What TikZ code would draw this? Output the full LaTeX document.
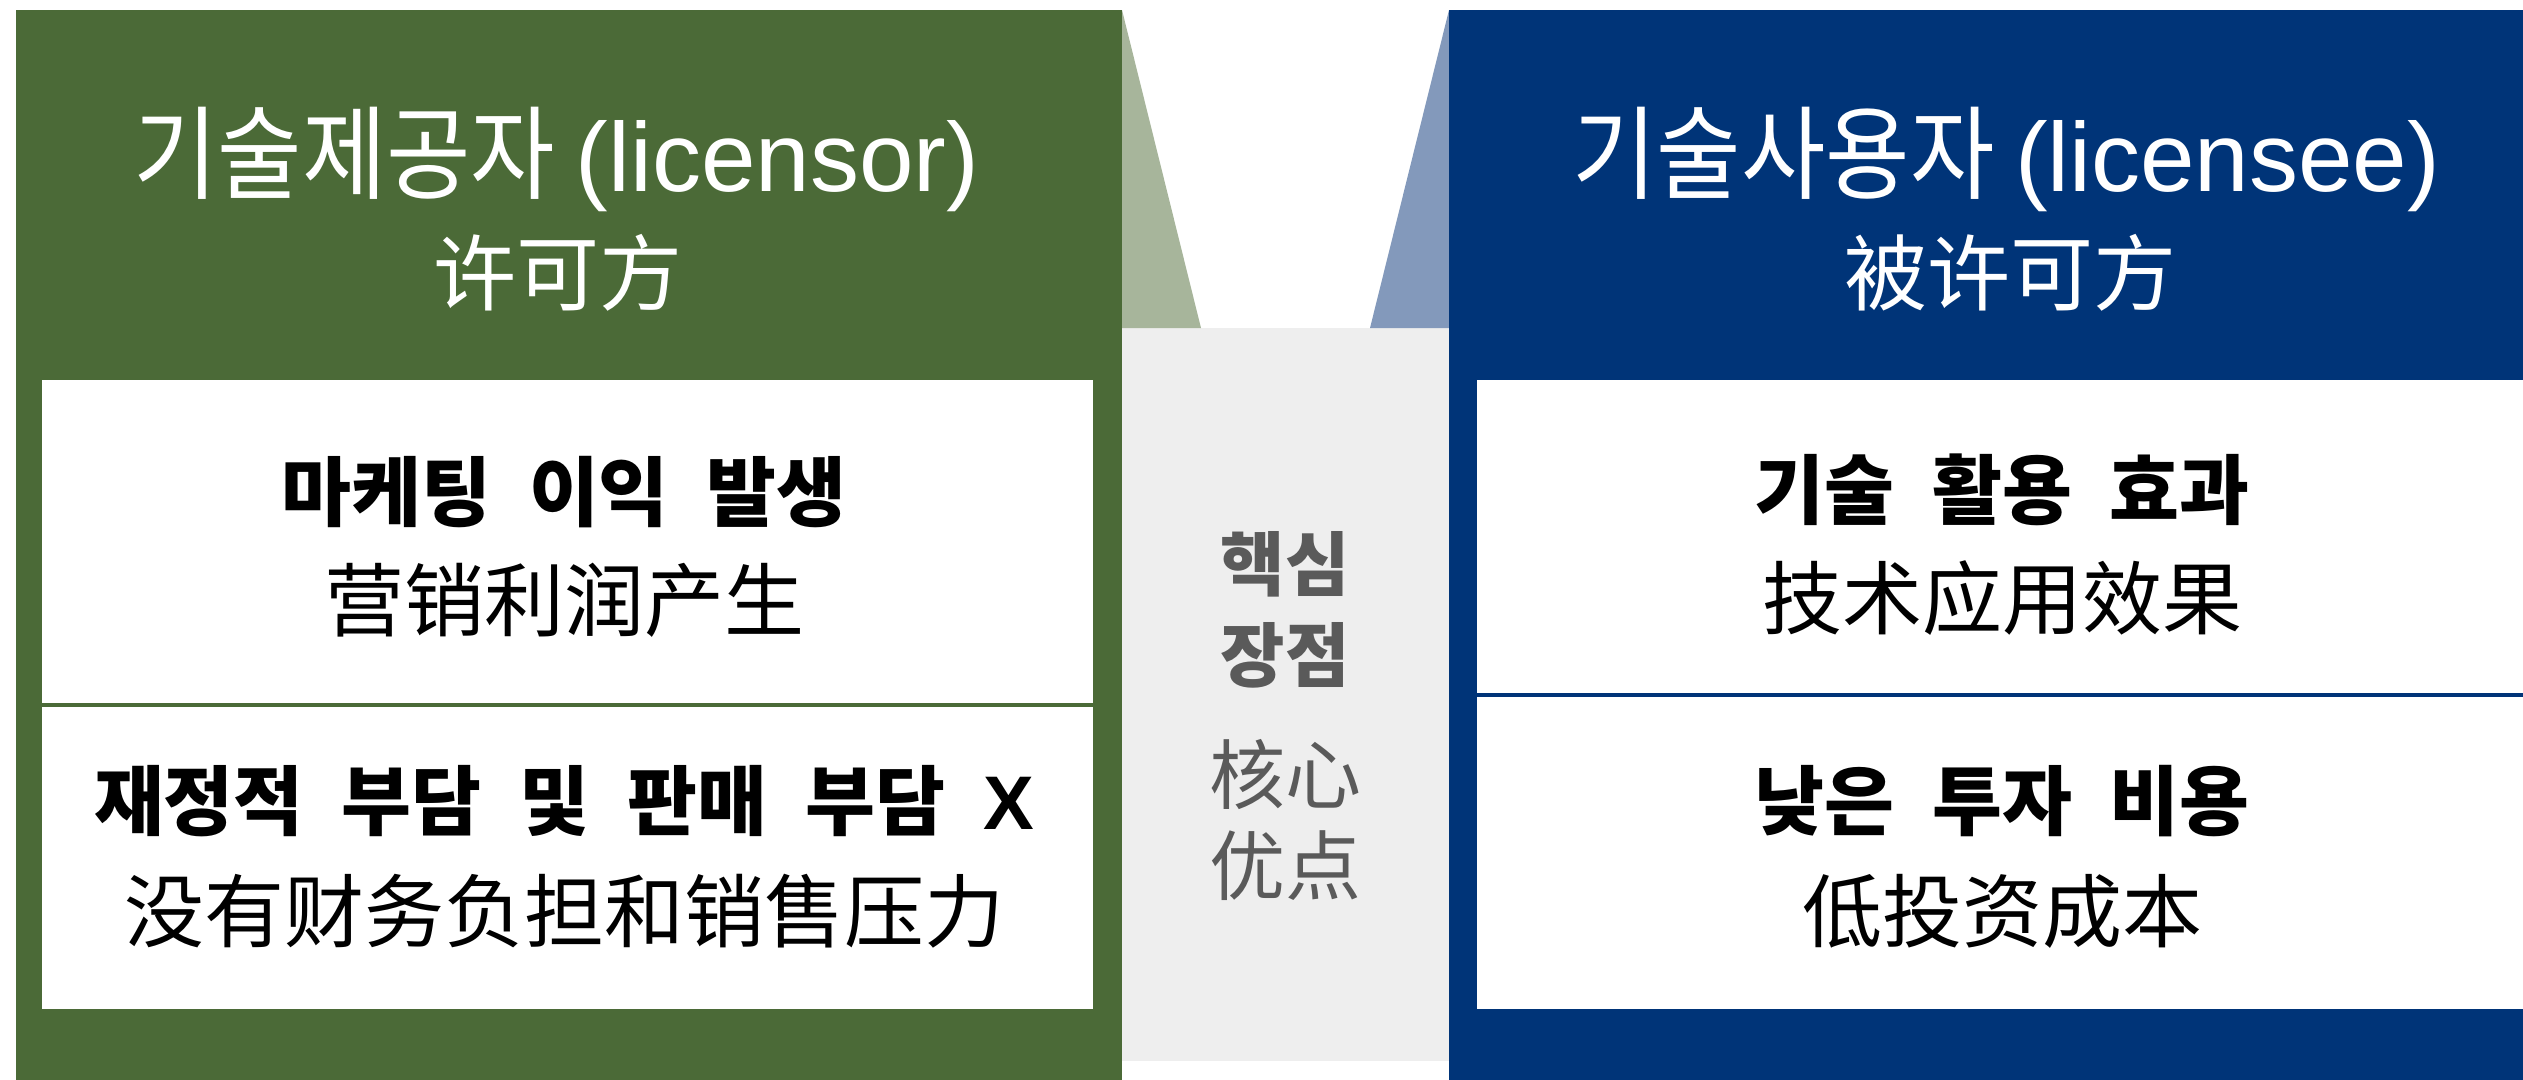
\documentclass[tikz,border=0pt]{standalone}
\usepackage{fontspec}
\newfontfamily\krt{Noto Sans CJK KR}[FakeStretch=0.9]
\newfontfamily\kr{Noto Sans CJK KR}
\newfontfamily\zh{Noto Sans CJK SC}
\newfontfamily\lat{Liberation Sans}
\definecolor{frgreen}{HTML}{4B6A37}
\definecolor{ltgreen}{HTML}{A7B59B}
\definecolor{frblue}{HTML}{003478}
\definecolor{ltblue}{HTML}{8399BB}
\definecolor{midbg}{HTML}{EEEEEE}
\definecolor{midgrey}{HTML}{5A5A5A}
\newcommand\wgap{\hspace{0.5em}}
\tikzset{
  ttl/.style={anchor=base, inner sep=0pt, text=white, font=\krt\fontsize{102}{115}\selectfont},
  ttlzh/.style={anchor=base, inner sep=0pt, text=white, font=\zh\fontsize{83}{95}\selectfont},
  hd/.style={anchor=base, inner sep=0pt, text=black, font=\kr\bfseries\fontsize{76}{86}\selectfont},
  sub/.style={anchor=base, inner sep=0pt, text=black, font=\zh\fontsize{80}{90}\selectfont},
  mid/.style={anchor=base, inner sep=0pt, text=midgrey, font=\kr\bfseries\fontsize{70}{80}\selectfont},
  midzh/.style={anchor=base, inner sep=0pt, text=midgrey, font=\zh\fontsize{76}{86}\selectfont},
}
\begin{document}
\begin{tikzpicture}[x=1pt,y=-1pt]
\useasboundingbox (0,0) rectangle (2523,1079);
\clip (0,0) rectangle (2523,1079);
% centre column
\fill[midbg] (1122,328) rectangle (1449,1061);
\fill[ltgreen] (1122,10) -- (1201,328) -- (1122,328) -- cycle;
\fill[ltblue] (1449,10) -- (1370,328) -- (1449,328) -- cycle;
% frames
\fill[frgreen] (16,10) rectangle (1122,1085);
\fill[frblue] (1449,10) rectangle (2560,1085);
% white boxes
\fill[white] (42,380) rectangle (1093,703);
\fill[white] (42,707) rectangle (1093,1009);
\fill[white] (1477,380) rectangle (2528,693);
\fill[white] (1477,697) rectangle (2528,1009);
% headers
\node[ttl] (lt) at (556,191) {기술제공자 {\lat\fontsize{98}{110}\selectfont (licensor)}};
\node[ttlzh] (lz) at (558,304) {许可方};
\node[ttl] (rt) at (2006,191) {기술사용자 {\lat\fontsize{98}{110}\selectfont (licensee)}};
\node[ttlzh] (rz) at (2010,304) {被许可方};
% left boxes
\node[hd] (l1k) at (564,520) {마케팅\wgap 이익\wgap 발생};
\node[sub] (l1z) at (564,630) {营销利润产生};
\node[hd] (l2k) at (564,829) {재정적\wgap 부담\wgap 및\wgap 판매\wgap 부담\wgap{\lat X}};
\node[sub] (l2z) at (564,941) {没有财务负担和销售压力};
% right boxes
\node[hd] (r1k) at (2002,518) {기술\wgap 활용\wgap 효과};
\node[sub] (r1z) at (2002,628) {技术应用效果};
\node[hd] (r2k) at (2002,829) {낮은\wgap 투자\wgap 비용};
\node[sub] (r2z) at (2002,941) {低投资成本};
% centre
\node[mid] (c1) at (1285,590) {핵심};
\node[mid] (c2) at (1285,681) {장점};
\node[midzh] (c3) at (1285,803) {核心};
\node[midzh] (c4) at (1285,894) {优点};
\end{tikzpicture}
\end{document}
